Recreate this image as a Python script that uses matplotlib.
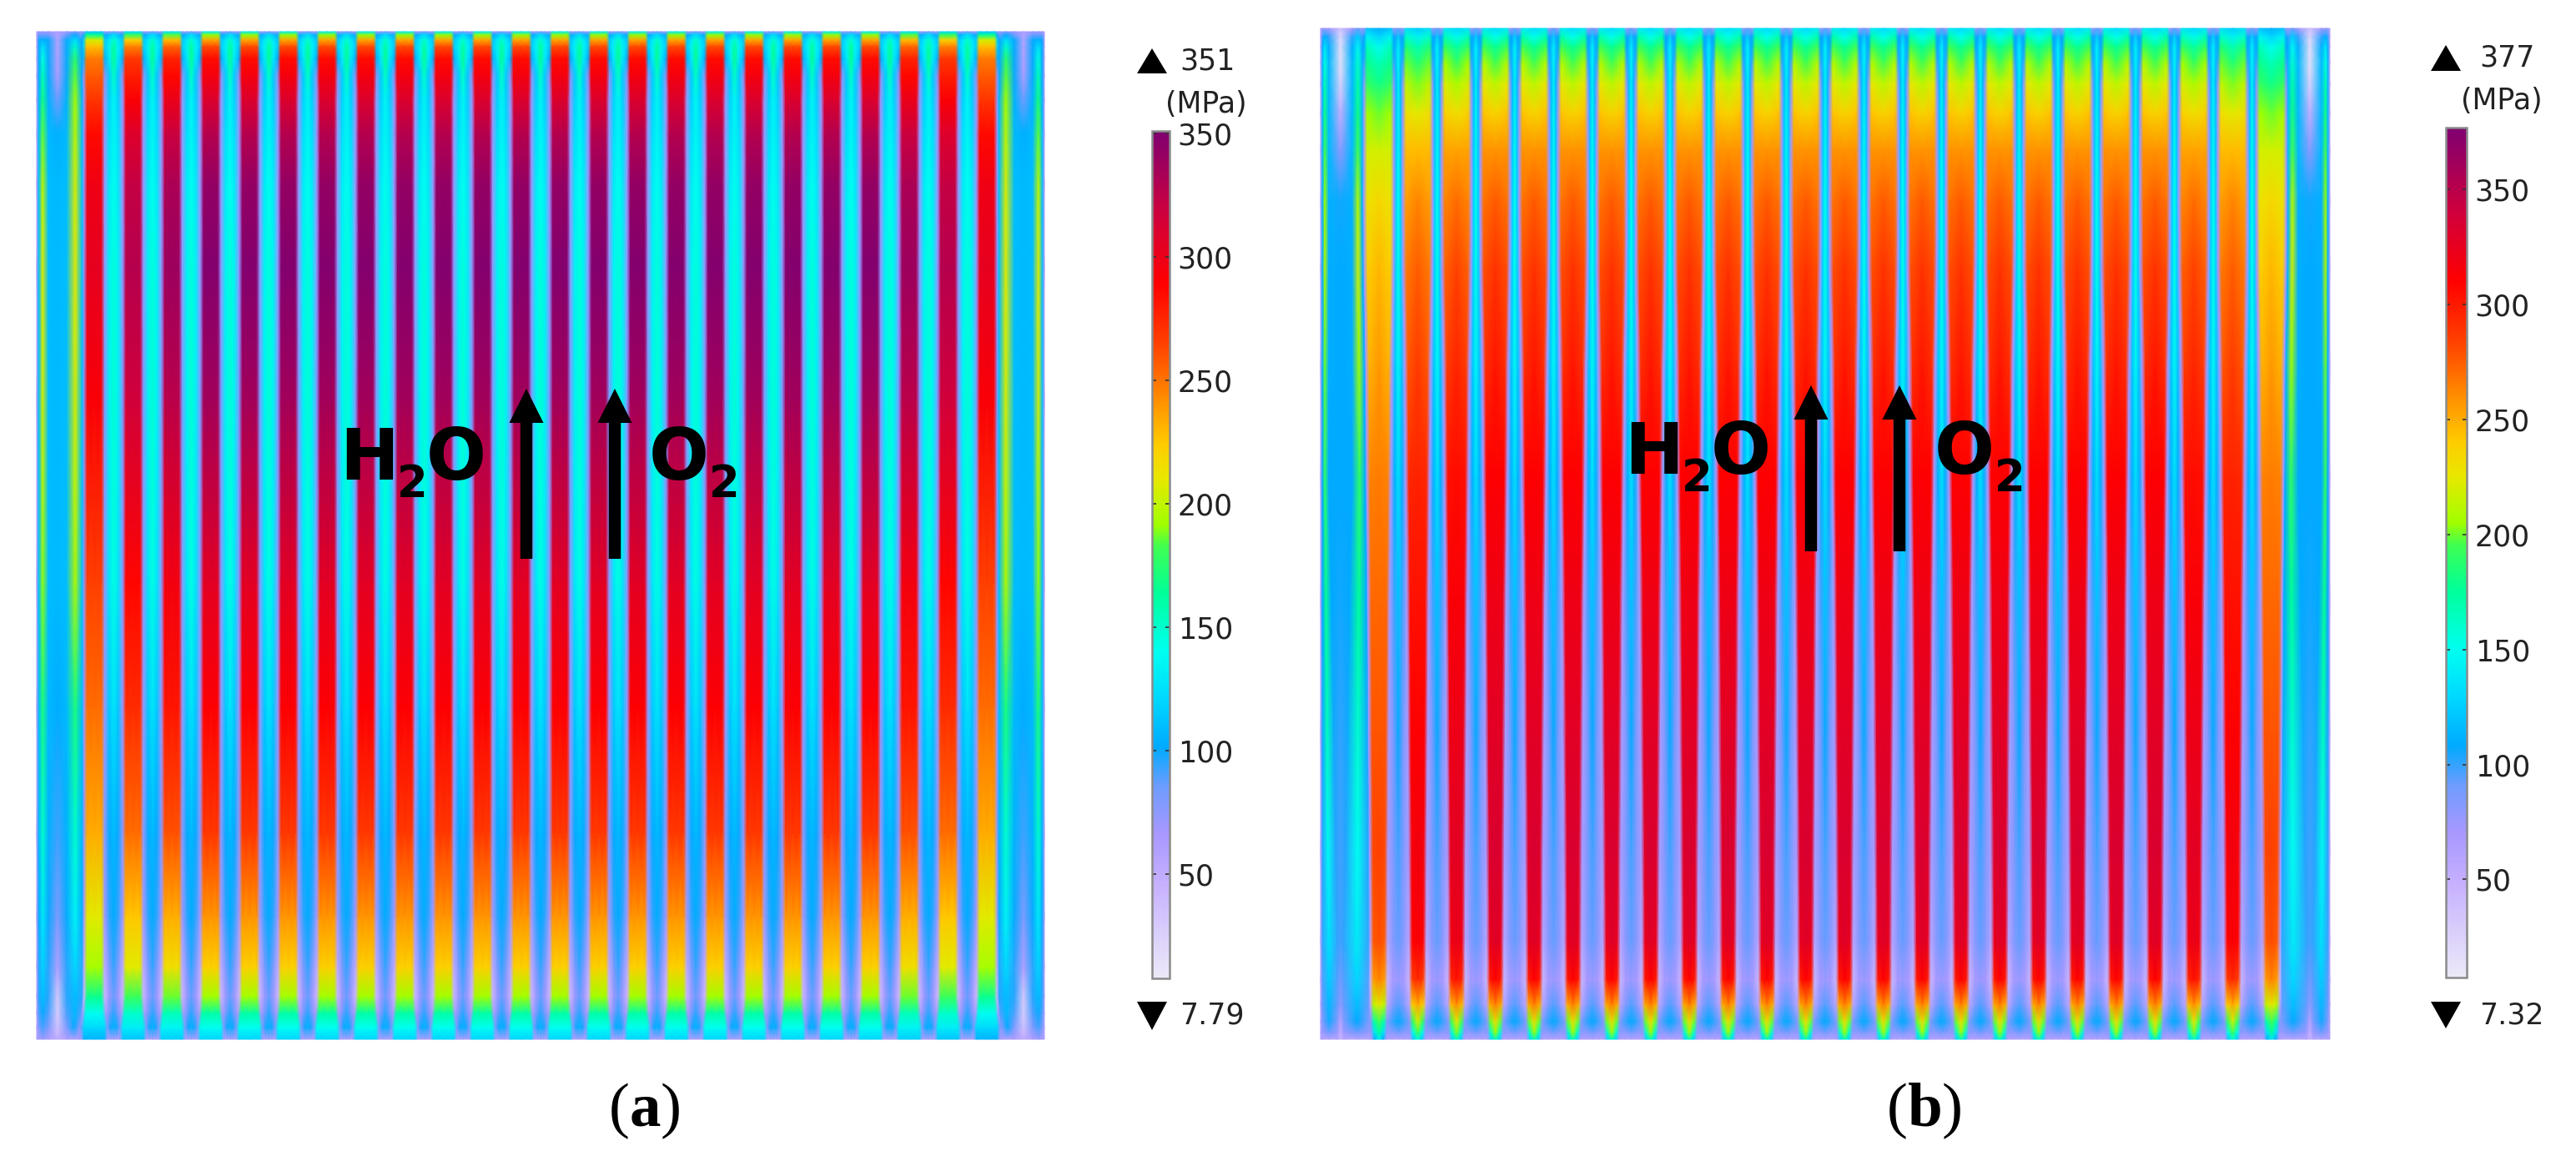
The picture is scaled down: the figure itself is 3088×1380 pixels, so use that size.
import numpy as np
import matplotlib
matplotlib.use('Agg')
import matplotlib.pyplot as plt
from matplotlib.colors import LinearSegmentedColormap, Normalize

W_PX, H_PX = 3088, 1380

# colour scale (fraction of range, colour)
CMAP_POS = [0.0, 0.116, 0.17, 0.225, 0.272, 0.33, 0.386, 0.455, 0.51, 0.535,
            0.59, 0.63, 0.685, 0.75, 0.82, 0.90, 1.0]
CMAP_COL = ['#ece9f8', '#c4aeff', '#a898ff', '#6f9cff', '#00aaff', '#00d8ff', '#00fff0',
            '#00ff99', '#40ff50', '#a0ff00', '#e8e800', '#ffcc00', '#ff8c00', '#ff4000',
            '#ff0000', '#d0003c', '#800070']

# panel (a): stress in MPa read along the plate, one value per level
Y_A = [38, 42, 48, 56, 70, 90, 120, 160, 220, 320, 480, 700, 850, 1000, 1100, 1160, 1195, 1215, 1232, 1246]
HOT_A = [130, 190, 235, 262, 285, 295, 310, 328, 342, 349, 336, 305, 290, 268, 240, 222, 192, 160, 140, 120]
EDGE_A = HOT_A
COOL_A = [85, 125, 150, 162, 165, 152, 136, 136, 140, 146, 148, 144, 128, 108, 102, 94, 86, 95, 105, 62]
SIDE_A = [72, 112, 130, 135, 130, 116, 118, 124, 130, 134, 134, 128, 114, 100, 94, 80, 70, 85, 100, 60]
GAP_A = [65, 100, 115, 118, 105, 80, 72, 72, 72, 74, 80, 76, 72, 75, 68, 52, 42, 65, 85, 62]
STRIP1_A = [70, 85, 105, 125, 145, 155, 170, 185, 198, 208, 205, 190, 172, 150, 130, 120, 110, 100, 92, 70]
WIDE_A = [60, 58, 58, 58, 60, 62, 85, 104, 108, 108, 108, 108, 102, 92, 80, 60, 30, 28, 35, 50]
STRIP2_A = [80, 100, 125, 150, 175, 185, 192, 198, 205, 208, 205, 195, 172, 150, 135, 122, 110, 108, 100, 60]
RIM_A = [70, 85, 100, 100, 100, 100, 105, 108, 110, 110, 110, 110, 108, 105, 100, 95, 95, 90, 80, 62]
RIB_A = [0.87, 0.94, 0.97, 1, 1, 1, 1, 1, 1, 1, 1, 1]

# panel (b)
Y_B = [34, 44, 56, 75, 100, 135, 180, 240, 320, 440, 570, 720, 880, 1020, 1130, 1175, 1205, 1225, 1238, 1246]
HOT_B = [130, 150, 175, 195, 212, 235, 258, 276, 290, 302, 312, 320, 328, 335, 330, 310, 265, 230, 205, 165]
EDGE_B = [140, 170, 195, 210, 225, 242, 258, 268, 280, 292, 310, 320, 328, 332, 325, 300, 250, 200, 160, 130]
COOL_B = [90, 125, 142, 145, 142, 144, 146, 150, 152, 146, 135, 120, 107, 98, 92, 75, 95, 108, 90, 62]
SIDE_B = [80, 105, 120, 120, 116, 120, 122, 126, 126, 120, 110, 98, 88, 85, 82, 70, 85, 100, 80, 62]
GAP_B = [70, 108, 108, 100, 82, 76, 74, 72, 72, 70, 70, 68, 68, 68, 60, 45, 60, 85, 80, 65]
STRIP1_B = [70, 110, 135, 155, 168, 180, 195, 205, 210, 200, 190, 178, 165, 148, 135, 125, 115, 105, 90, 60]
WIDE_B = [35, 22, 16, 15, 25, 50, 80, 105, 108, 108, 108, 105, 100, 98, 98, 90, 80, 60, 50, 45]
STRIP2_B = [90, 125, 145, 160, 170, 180, 195, 210, 218, 205, 190, 175, 160, 150, 140, 130, 118, 108, 90, 60]
RIM_B = [70, 100, 110, 115, 115, 115, 115, 112, 110, 110, 108, 108, 105, 102, 100, 95, 92, 85, 75, 60]
RIB_B = [0.85, 0.95, 0.98, 1, 1, 1, 1, 1, 1, 1, 1, 1]

# colour bars
TICKS_A = [50, 100, 150, 200, 250, 300, 350]
TICKS_B = [50, 100, 150, 200, 250, 300, 350]
RANGE_A = (7.79, 351)
RANGE_B = (7.32, 377)
MAX_LABEL_A, MIN_LABEL_A = '351', '7.79'
MAX_LABEL_B, MIN_LABEL_B = '377', '7.32'

# geometry of the plates in pixels
HALF_A = [9, 9, 9, 9, 9, 9, 8.5, 8.5, 8.5, 8.5, 8.5, 8.5, 8.5, 8.5, 8.5, 8.5, 8.5, 10, 12, 12]
HALF_B = [14, 14, 14, 14, 14, 14, 14, 14, 13.5, 11.5, 10.5, 9, 8, 7, 6.5, 6.5, 6.5, 6, 5.5, 5]
WIDTH_A = [11] * 20
WIDTH_B = [14, 14, 14, 14, 14, 14, 14, 14, 14, 14, 14, 11, 8, 6, 4, 4, 4, 4, 4, 4]
PITCH = 46.52


def build_plate(y, hot, edge, cool, side, gap, strip1, wide, strip2, rim, ribs, half, wid, x0, c0, bc, border=60):
    xrows, zrows = [], []
    centre = c0 + (len(ribs) - 0.5) * PITCH
    for j in range(len(y)):
        w = half[j]
        xg = c0 - w - 4
        xs = [x0, x0 + 2.5, (x0 + bc - wid[j]) / 2, bc - wid[j], bc, bc + wid[j],
              (bc + wid[j] + xg) / 2, xg - 2, xg]
        zs = [border, rim[j], strip1[j], rim[j], wide[j], rim[j], strip2[j], rim[j], gap[j]]
        for i, f in enumerate(ribs):
            c = c0 + i * PITCH
            xs += [c - w, c, c + w, c + w + 4, (c + w + 4 + c + PITCH / 2) / 2, c + PITCH / 2]
            zs += [edge[j] * f, hot[j] * f, edge[j] * f, gap[j], side[j], cool[j]]
            if i < len(ribs) - 1:
                nxt = c + PITCH
                xs += [(nxt - w - 4 + c + PITCH / 2) / 2, nxt - w - 4]
                zs += [side[j], gap[j]]
        xs = np.array(xs)
        zs = np.array(zs, dtype=float)
        # right half mirrors the left half
        xrows.append(np.concatenate([xs, (2 * centre - xs)[-2::-1]]))
        zrows.append(np.concatenate([zs, zs[-2::-1]]))
    X = np.array(xrows)
    Y = np.tile(np.array(y, dtype=float)[:, None], (1, X.shape[1]))
    return X, Y, np.array(zrows)


def px_axes(fig, left, top, right, bottom):
    return fig.add_axes([left / W_PX, 1 - bottom / H_PX, (right - left) / W_PX, (bottom - top) / H_PX])


def colour_bar(fig, mesh, rect, ticks):
    cax = px_axes(fig, *rect)
    cb = fig.colorbar(mesh, cax=cax, ticks=ticks)
    cb.outline.set_edgecolor('#8a8a8a')
    cb.outline.set_linewidth(1.8)
    cax.tick_params(axis='y', direction='in', left=True, right=True, length=3.5, width=1.2,
                    color='#333333', labelsize=TICK_SIZE, labelcolor='#222222', pad=7)
    return cb


TICK_SIZE = 25
cmap = LinearSegmentedColormap.from_list('rainbow_light', list(zip(CMAP_POS, CMAP_COL)), N=512)

fig = plt.figure(figsize=(W_PX / 100, H_PX / 100), dpi=100, facecolor='white')
ax = fig.add_axes([0, 0, 1, 1])
ax.set_xlim(0, W_PX)
ax.set_ylim(H_PX, 0)
ax.axis('off')

X, Y, Z = build_plate(Y_A, HOT_A, EDGE_A, COOL_A, SIDE_A, GAP_A, STRIP1_A, WIDE_A, STRIP2_A, RIM_A,
                      RIB_A, HALF_A, WIDTH_A, 44, 113, 69)
mesh_a = ax.pcolormesh(X, Y, Z, shading='gouraud', cmap=cmap, norm=Normalize(*RANGE_A))

X, Y, Z = build_plate(Y_B, HOT_B, EDGE_B, COOL_B, SIDE_B, GAP_B, STRIP1_B, WIDE_B, STRIP2_B, RIM_B,
                      RIB_B, HALF_B, WIDTH_B, 1583, 1653, 1607)
mesh_b = ax.pcolormesh(X, Y, Z, shading='gouraud', cmap=cmap, norm=Normalize(*RANGE_B))

colour_bar(fig, mesh_a, (1381, 157, 1402, 1173), TICKS_A)
colour_bar(fig, mesh_b, (2932, 153, 2957, 1172), TICKS_B)

# max / min markers and unit
for tx, up_y, dn_y, lx, ux, uy, hi, lo in [(1381, (58, 88), (1201, 1235), 1414, 1397, 125, MAX_LABEL_A, MIN_LABEL_A),
                                           (2932, (54, 85), (1201, 1233), 2972, 2950, 121, MAX_LABEL_B, MIN_LABEL_B)]:
    ax.fill([tx - 18, tx + 18, tx], [up_y[1], up_y[1], up_y[0]], color='black', lw=0)
    ax.fill([tx - 18, tx + 18, tx], [dn_y[0], dn_y[0], dn_y[1]], color='black', lw=0)
    ax.text(lx, sum(up_y) / 2, hi, fontsize=TICK_SIZE, color='#222222', va='center', ha='left')
    ax.text(lx, sum(dn_y) / 2, lo, fontsize=TICK_SIZE, color='#222222', va='center', ha='left')
    ax.text(ux, uy, '(MPa)', fontsize=TICK_SIZE, color='#222222', va='center', ha='left')

# flow labels and arrows
BIG = 61
SUB = 38
for hx, sx, ox, base, a1, a2, sx2, ox2, tail, tip in [(407, 476, 511, 575, 631, 737, 850, 778, 670, 466),
                                                      (1947, 2016, 2051, 568, 2171, 2277, 2391, 2319, 661, 462)]:
    ax.text(hx, base, 'H', fontsize=BIG, fontweight='bold', color='black', ha='left', va='baseline')
    ax.text(sx, base + 21, '2', fontsize=SUB, fontweight='bold', color='black', ha='left', va='baseline')
    ax.text(ox, base, 'O', fontsize=BIG, fontweight='bold', color='black', ha='left', va='baseline')
    ax.text(ox2, base, 'O', fontsize=BIG, fontweight='bold', color='black', ha='left', va='baseline')
    ax.text(sx2, base + 21, '2', fontsize=SUB, fontweight='bold', color='black', ha='left', va='baseline')
    for ax_x in (a1, a2):
        ax.arrow(ax_x, tail, 0, tip - tail, width=14.5, head_width=41, head_length=41,
                 length_includes_head=True, color='black', lw=0)

# panel captions
for left, letter in [(730, 'a'), (2262, 'b')]:
    ax.text(left, 1350, '(', fontsize=54, family='Liberation Serif', color='black', ha='left', va='baseline')
    ax.text(left + 25, 1350, letter, fontsize=54, family='Liberation Serif', fontweight='bold', color='black',
            ha='left', va='baseline')
    ax.text(left + (62 if letter == 'a' else 66), 1350, ')', fontsize=54, family='Liberation Serif', color='black',
            ha='left', va='baseline')

fig.savefig('out.png', dpi=100, facecolor='white')
